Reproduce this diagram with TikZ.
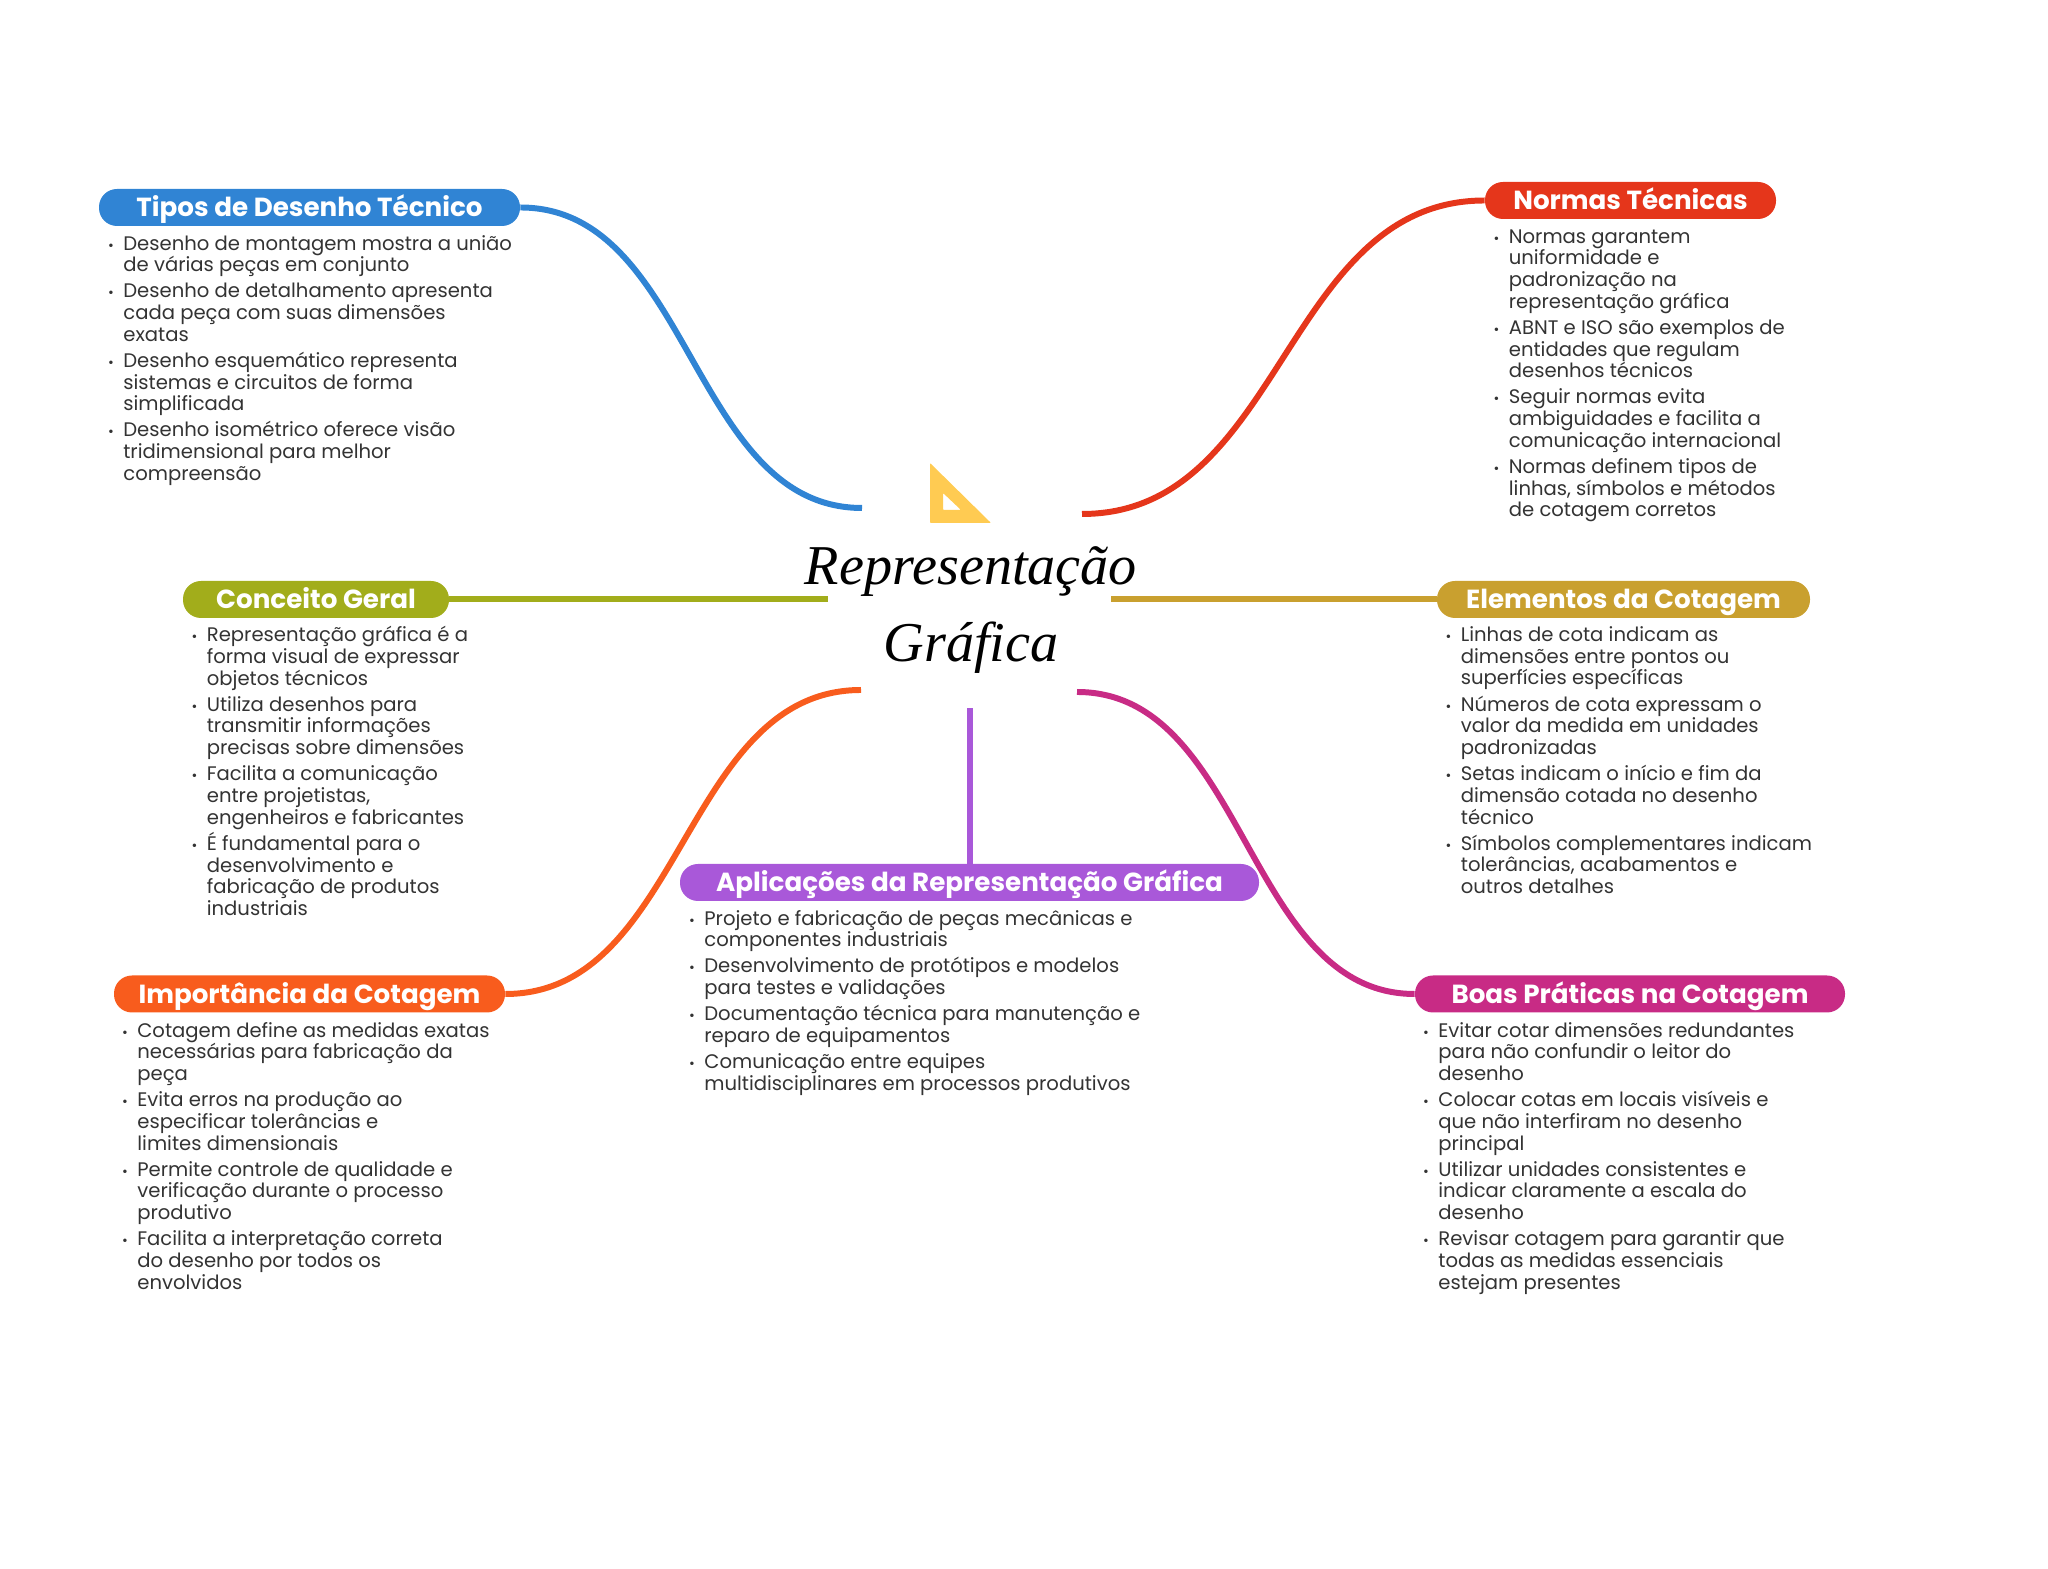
\documentclass[tikz,border=0pt]{standalone}
\usepackage{fontspec}
\setmainfont{Poppins}
\newfontfamily\titlefont{Liberation Serif}
\usepackage{xcolor}
\definecolor{mmblue}{RGB}{48,132,212}
\definecolor{mmred}{RGB}{229,54,27}
\definecolor{mmgreen}{RGB}{162,173,27}
\definecolor{mmgold}{RGB}{201,160,47}
\definecolor{mmpurple}{RGB}{169,88,217}
\definecolor{mmorange}{RGB}{248,92,29}
\definecolor{mmpink}{RGB}{200,43,133}
\definecolor{mmyellow}{RGB}{255,203,82}
\definecolor{mmtext}{RGB}{51,51,51}
\usepackage{tikz}
\usetikzlibrary{arrows.meta, positioning, calc}
\newcommand{\bl}{\strut\llap{{\fontsize{8}{8}\selectfont\textbullet}\hspace{5.4pt}}}
\setlength{\lineskiplimit}{-10pt}
\setlength{\normallineskiplimit}{-10pt}

\begin{document}
\begin{tikzpicture}[
  pill/.style={rectangle, rounded corners=0.36cm, fill=#1, minimum height=0.74cm,
               inner sep=0pt, text=white, text height=13.5pt, text depth=3pt,
               font=\fontsize{14.9}{16}\selectfont\bfseries},
  notes/.style={anchor=north west, inner sep=0pt, align=left, text=mmtext,
                font=\fontsize{11.16}{12.36}\selectfont},
  link/.style={draw=#1, line width=3.4pt},
  root/.style={align=center, inner sep=0pt, text=black,
               font=\fontsize{32}{44}\selectfont\titlefont\itshape}
]
\useasboundingbox (0,0) rectangle (40.96,31.38);

% Centre
\node[root] (root) at (19.42,19.18) {Representação\\Gráfica};
\fill[mmyellow, rounded corners=0.5pt, even odd rule]
  (18.60,22.12) -- (18.60,20.92) -- (19.82,20.92) -- cycle
  (18.86,21.52) -- (18.86,21.18) -- (19.22,21.18) -- cycle;
\coordinate (endtipos) at (17.24,21.22);
\coordinate (endnormas) at (21.64,21.10);
\coordinate (endconceito) at (16.56,19.39);
\coordinate (endelementos) at (22.22,19.39);
\coordinate (endimport) at (17.22,17.58);
\coordinate (endboas) at (21.54,17.54);
\coordinate (endaplic) at (19.38,17.22);

% Branch 1: Tipos de Desenho
\node[pill=mmblue, minimum width=8.42cm] (tipos) at (6.19,27.23) {Tipos de Desenho Técnico};
\node[notes] (tiposnotes) at (2.46,26.69) {\bl Desenho de montagem mostra a união\\de várias peças em conjunto\\[2.5pt]
\bl Desenho de detalhamento apresenta\\cada peça com suas dimensões\\exatas\\[2.5pt]
\bl Desenho esquemático representa\\sistemas e circuitos de forma\\simplificada\\[2.5pt]
\bl Desenho isométrico oferece visão\\tridimensional para melhor\\compreensão};
\draw[link=mmblue] (tipos.east) .. controls (13.82,27.23) and (13.82,21.22) .. (endtipos);

% Branch 2: Normas
\node[pill=mmred, minimum width=5.82cm] (normas) at (32.61,27.37) {Normas Técnicas};
\node[notes] (normasnotes) at (30.17,26.83) {\bl Normas garantem\\uniformidade e\\padronização na\\representação gráfica\\[2.5pt]
\bl ABNT e ISO são exemplos de\\entidades que regulam\\desenhos técnicos\\[2.5pt]
\bl Seguir normas evita\\ambiguidades e facilita a\\comunicação internacional\\[2.5pt]
\bl Normas definem tipos de\\linhas, símbolos e métodos\\de cotagem corretos};
\draw[link=mmred] (normas.west) .. controls (25.67,27.37) and (25.67,21.10) .. (endnormas);

% Branch 3: Conceito
\node[pill=mmgreen, minimum width=5.32cm] (conceito) at (6.32,19.39) {Conceito Geral};
\node[notes] (conceitonotes) at (4.13,18.86) {\bl Representação gráfica é a\\forma visual de expressar\\objetos técnicos\\[2.5pt]
\bl Utiliza desenhos para\\transmitir informações\\precisas sobre dimensões\\[2.5pt]
\bl Facilita a comunicação\\entre projetistas,\\engenheiros e fabricantes\\[2.5pt]
\bl É fundamental para o\\desenvolvimento e\\fabricação de produtos\\industriais};
\draw[link=mmgreen] (conceito.east) -- (endconceito);

% Branch 4: Elementos
\node[pill=mmgold, minimum width=7.46cm] (elementos) at (32.47,19.39) {Elementos da Cotagem};
\node[notes] (elementosnotes) at (29.21,18.86) {\bl Linhas de cota indicam as\\dimensões entre pontos ou\\superfícies específicas\\[2.5pt]
\bl Números de cota expressam o\\valor da medida em unidades\\padronizadas\\[2.5pt]
\bl Setas indicam o início e fim da\\dimensão cotada no desenho\\técnico\\[2.5pt]
\bl Símbolos complementares indicam\\tolerâncias, acabamentos e\\outros detalhes};
\draw[link=mmgold] (elementos.west) -- (endelementos);

% Branch 5: Aplicacoes
\node[pill=mmpurple, minimum width=11.58cm] (aplic) at (19.39,13.73) {Aplicações da Representação Gráfica};
\node[notes] (aplicnotes) at (14.08,13.19) {\bl Projeto e fabricação de peças mecânicas e\\componentes industriais\\[2.5pt]
\bl Desenvolvimento de protótipos e modelos\\para testes e validações\\[2.5pt]
\bl Documentação técnica para manutenção e\\reparo de equipamentos\\[2.5pt]
\bl Comunicação entre equipes\\multidisciplinares em processos produtivos};
\draw[link=mmpurple] (aplic.north) -- (aplic.north |- endaplic);

% Branch 6: Importancia
\node[pill=mmorange, minimum width=7.82cm] (import) at (6.19,11.50) {Importância da Cotagem};
\node[notes] (importnotes) at (2.74,10.95) {\bl Cotagem define as medidas exatas\\necessárias para fabricação da\\peça\\[2.5pt]
\bl Evita erros na produção ao\\especificar tolerâncias e\\limites dimensionais\\[2.5pt]
\bl Permite controle de qualidade e\\verificação durante o processo\\produtivo\\[2.5pt]
\bl Facilita a interpretação correta\\do desenho por todos os\\envolvidos};
\draw[link=mmorange] (import.east) .. controls (13.66,11.50) and (13.66,17.58) .. (endimport);

% Branch 7: Boas Praticas
\node[pill=mmpink, minimum width=8.60cm] (boas) at (32.60,11.50) {Boas Práticas na Cotagem};
\node[notes] (boasnotes) at (28.76,10.95) {\bl Evitar cotar dimensões redundantes\\para não confundir o leitor do\\desenho\\[2.5pt]
\bl Colocar cotas em locais visíveis e\\que não interfiram no desenho\\principal\\[2.5pt]
\bl Utilizar unidades consistentes e\\indicar claramente a escala do\\desenho\\[2.5pt]
\bl Revisar cotagem para garantir que\\todas as medidas essenciais\\estejam presentes};
\draw[link=mmpink] (boas.west) .. controls (24.92,11.50) and (24.92,17.54) .. (endboas);
\end{tikzpicture}
\end{document}
